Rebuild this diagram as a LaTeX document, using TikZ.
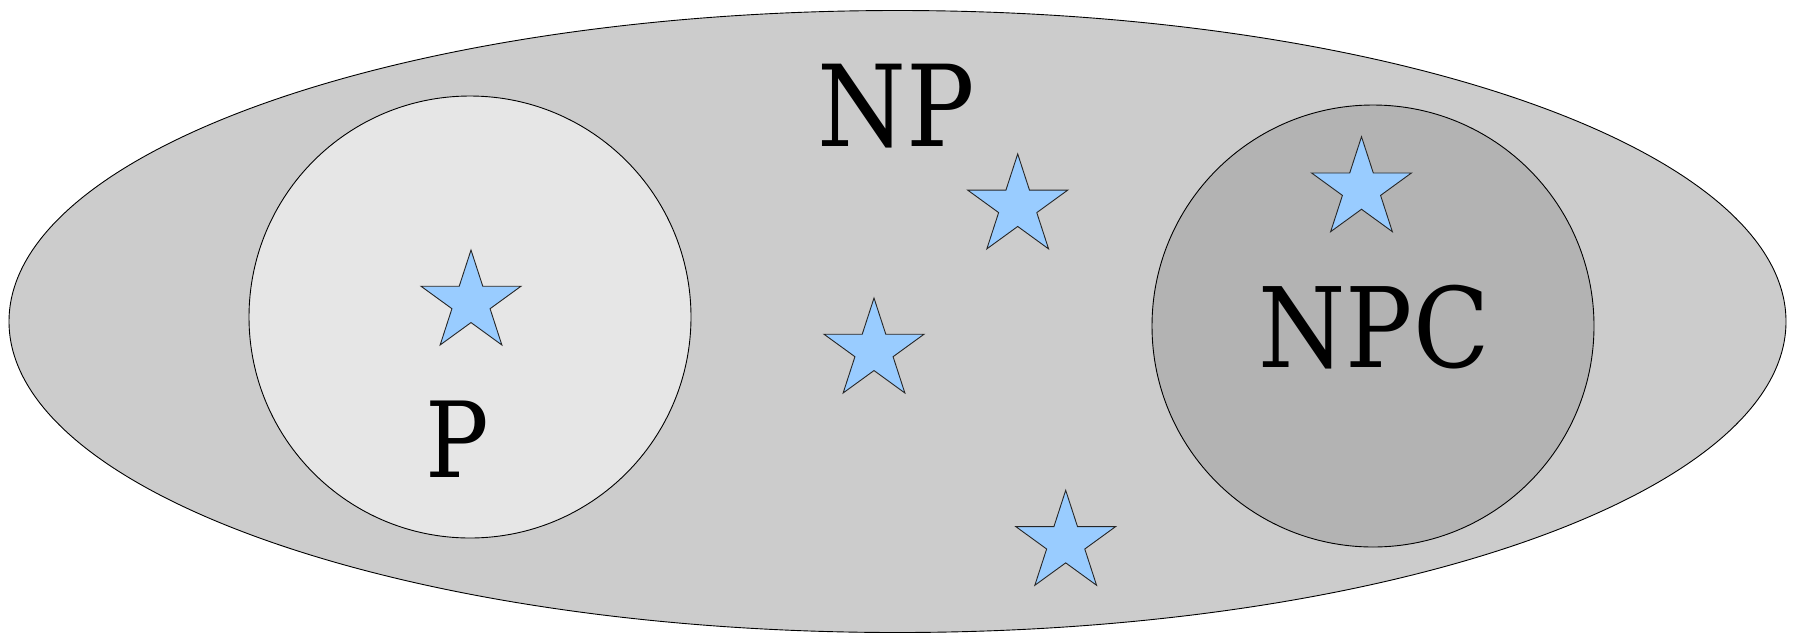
\documentclass[tikz,border=0pt]{standalone}
\usepackage{fontspec}
\setmainfont{DejaVu Serif}[FakeStretch=0.9]
\usetikzlibrary{shapes.geometric}
\definecolor{npfill}{HTML}{CCCCCC}
\definecolor{pfill}{HTML}{E6E6E6}
\definecolor{npcfill}{HTML}{B3B3B3}
\definecolor{starfill}{HTML}{99CCFF}
\tikzset{
  setline/.style={draw=black, line width=0.9pt},
  starnode/.style={star, star points=5, star point ratio=2.618, minimum size=105pt, inner sep=0pt, draw=black!85, line width=0.9pt, fill=starfill},
  biglabel/.style={anchor=base, inner sep=0pt, font=\fontsize{#1}{#1}\selectfont}
}
\begin{document}
\begin{tikzpicture}[x=1pt,y=-1pt]
\useasboundingbox (0,0) rectangle (1794,633);
\node[setline, fill=npfill, ellipse, minimum width=1777pt, minimum height=622pt, inner sep=0pt] (np) at (897.5,321.5) {};
\node[setline, fill=pfill, circle, minimum size=442pt, inner sep=0pt] (p) at (470,317) {};
\node[setline, fill=npcfill, circle, minimum size=442pt, inner sep=0pt] (npc) at (1373,326) {};
\node[starnode] (s1) at (471,302.5) {};
\node[starnode] (s2) at (1017.7,206.4) {};
\node[starnode] (s3) at (874,350.5) {};
\node[starnode] (s4) at (1065.7,542.8) {};
\node[starnode] (s5) at (1361.5,189.2) {};
\node[biglabel=113] (tnp) at (896,146.5) {NP};
\node[biglabel=105] (tp) at (457.6,477) {P};
\node[biglabel=111] (tnpc) at (1374,367) {NPC};
\end{tikzpicture}
\end{document}
